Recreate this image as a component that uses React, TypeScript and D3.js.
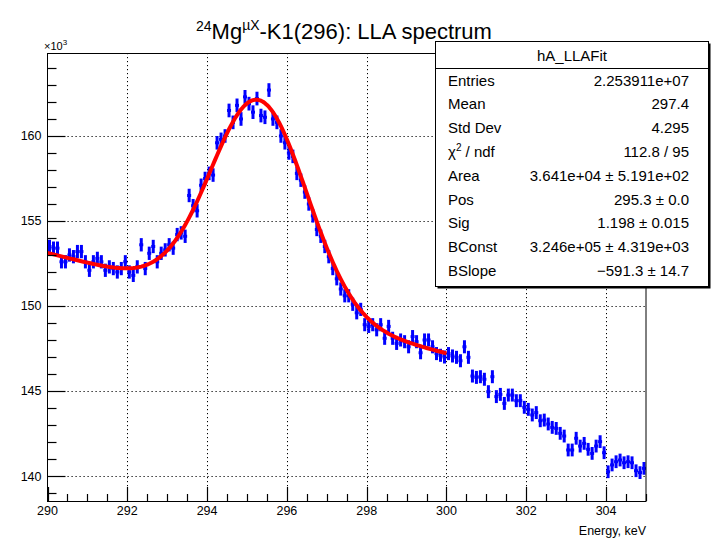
import React, { useRef, useEffect } from 'react';
import * as d3 from 'd3';

// histogram: 150 bins of 0.1 keV from 290 keV, contents in units of 10^3
const binLow = 290;
const binWidth = 0.1;
const counts = [
  153.5, 153.4, 153.4, 152.6, 152.6, 153.0, 152.9, 153.2, 153.2, 152.6,
  152.1, 152.6, 152.8, 152.6, 152.1, 152.3, 152.2, 152.0, 152.2, 152.6,
  152.0, 151.8, 152.3, 153.6, 152.2, 153.1, 153.5, 152.6, 153.1, 153.3,
  153.6, 153.4, 154.2, 154.3, 154.1, 156.5, 155.9, 155.6, 157.1, 157.5,
  157.8, 157.7, 159.6, 159.8, 160.0, 161.5, 160.8, 161.8, 161.0, 162.3,
  161.9, 161.4, 162.2, 161.2, 161.1, 162.7, 161.0, 160.8, 160.0, 159.6,
  159.0, 158.8, 157.8, 157.4, 156.7, 156.0, 155.3, 154.5, 154.1, 153.5,
  152.9, 152.2, 151.6, 151.0, 150.6, 150.6, 150.1, 149.6, 149.8, 148.9,
  148.8, 148.9, 148.6, 148.9, 148.1, 148.8, 148.1, 147.8, 148.0, 147.9,
  147.6, 148.2, 147.9, 147.25, 148.0, 148.0, 147.6, 147.2, 147.1, 147.0,
  147.2, 147.06, 146.98, 146.78, 147.6, 146.98, 145.88, 145.8, 145.84, 145.69,
  144.96, 145.84, 144.67, 144.8, 144.27, 144.76, 144.76, 144.43, 144.43, 144.04,
  143.92, 143.59, 143.73, 143.25, 143.29, 143.06, 142.86, 142.8, 142.51, 142.35,
  141.53, 141.53, 142.22, 141.76, 141.92, 141.57, 141.33, 141.76, 142.02, 141.37,
  140.25, 140.65, 140.84, 140.94, 140.78, 140.84, 140.78, 140.31, 140.2, 140.45,
];

// fit parameters (gaus + pol1), from the stats box
const fitArea = 3.641e4;
const fitPos = 295.3;
const fitSig = 1.198;
const fitBConst = 3.246e5;
const fitBSlope = -591.3;
const fitRange = [290, 300];

const xMajorTicks = [290, 292, 294, 296, 298, 300, 302, 304];
const yMajorTicks = [140, 145, 150, 155, 160];

const statLabels = ['Entries', 'Mean', 'Std Dev', 'χ2 / ndf', 'Area', 'Pos', 'Sig', 'BConst', 'BSlope'];
const statValues = [
  '2.253911e+07', '297.4', '4.295', '112.8 / 95', '3.641e+04 ± 5.191e+02',
  '295.3 ± 0.0', '1.198 ± 0.015', '3.246e+05 ± 4.319e+03', '−591.3 ± 14.7',
];

const font = '"Liberation Sans", Arial, Helvetica, sans-serif';

const App = () => {
  const ref = useRef<SVGSVGElement | null>(null);

  useEffect(() => {
    const svg = d3.select(ref.current);
    svg.selectAll('*').remove();

    const left = 47.5, right = 646, top = 53, bottom = 501;
    const x = d3.scaleLinear().domain([290, 305]).range([left, right]);
    const y = d3.scaleLinear().domain([138.53, 164.88]).range([bottom, top]);

    svg.append('rect').attr('width', 714).attr('height', 541).attr('fill', 'white');

    // grid
    const grid = svg.append('g').attr('stroke', 'black').attr('stroke-width', 1)
      .attr('stroke-dasharray', '1.2,2.8');
    grid.selectAll('line.gx').data(xMajorTicks.slice(1)).join('line')
      .attr('x1', d => Math.round(x(d)) + 0.5).attr('x2', d => Math.round(x(d)) + 0.5)
      .attr('y1', top).attr('y2', bottom);
    grid.selectAll('line.gy').data(yMajorTicks).join('line')
      .attr('class', 'gy')
      .attr('x1', left).attr('x2', right)
      .attr('y1', d => Math.round(y(d)) + 0.5).attr('y2', d => Math.round(y(d)) + 0.5);

    // data with error bars
    const pts = svg.append('g').attr('stroke', '#0000ff').attr('stroke-width', 3);
    counts.forEach((v, i) => {
      const lo = binLow + i * binWidth;
      const hi = lo + binWidth;
      const c = lo + binWidth / 2;
      const err = Math.sqrt(v * 1000) / 1000;
      pts.append('line').attr('x1', x(c)).attr('x2', x(c))
        .attr('y1', y(v - err)).attr('y2', y(v + err));
      pts.append('line').attr('x1', x(lo)).attr('x2', x(hi))
        .attr('y1', y(v)).attr('y2', y(v));
    });

    // fit curve
    const fitFn = (e: number) => (fitBConst + fitBSlope * e +
      fitArea / (fitSig * Math.sqrt(2 * Math.PI)) * Math.exp(-0.5 * ((e - fitPos) / fitSig) ** 2)) / 1000;
    const fitX = d3.range(fitRange[0], fitRange[1] + 1e-9, 0.05);
    svg.append('path')
      .attr('d', d3.line<number>().x(d => x(d)).y(d => y(fitFn(d)))(fitX))
      .attr('fill', 'none').attr('stroke', '#ff0000').attr('stroke-width', 4)
      .attr('stroke-linejoin', 'round');

    // frame
    svg.append('rect').attr('x', left).attr('y', top + 0.5)
      .attr('width', right - left).attr('height', bottom - top)
      .attr('fill', 'none').attr('stroke', 'black').attr('stroke-width', 1);

    // axis ticks
    const ticks = svg.append('g').attr('stroke', 'black').attr('stroke-width', 1.2);
    d3.range(290, 305.01, 0.5).forEach(t => {
      const major = Math.abs(t % 2) < 1e-6;
      const px = Math.round(x(t)) + 0.5;
      ticks.append('line').attr('x1', px).attr('x2', px)
        .attr('y1', bottom).attr('y2', bottom - (major ? 14 : 7));
    });
    d3.range(139, 165, 1).forEach(t => {
      const major = t % 5 === 0;
      const py = Math.round(y(t)) + 0.5;
      ticks.append('line').attr('x1', left).attr('x2', left + (major ? 18 : 9))
        .attr('y1', py).attr('y2', py);
    });

    // tick labels
    svg.append('g').selectAll('text').data(xMajorTicks).join('text')
      .attr('x', d => x(d)).attr('y', bottom + 14)
      .attr('text-anchor', 'middle').attr('font-size', 12.5).attr('font-family', font)
      .text(d => d);
    svg.append('g').selectAll('text').data(yMajorTicks).join('text')
      .attr('x', left - 6).attr('y', d => y(d) + 4.5)
      .attr('text-anchor', 'end').attr('font-size', 12.5).attr('font-family', font)
      .text(d => d);

    const exp = svg.append('text').attr('x', 44).attr('y', 50)
      .attr('font-size', 11).attr('font-family', font);
    exp.append('tspan').text('×10');
    exp.append('tspan').attr('dy', -5).attr('font-size', 8).text('3');

    svg.append('text').attr('x', right).attr('y', 535)
      .attr('text-anchor', 'end').attr('font-size', 12.5).attr('font-family', font)
      .text('Energy, keV');

    // title
    const title = svg.append('text').attr('x', 196).attr('y', 39)
      .attr('font-size', 22).attr('font-family', font);
    title.append('tspan').attr('font-size', 14).attr('dy', -8).text('24');
    title.append('tspan').attr('dy', 8).text('Mg');
    title.append('tspan').attr('font-size', 14).attr('dy', -9).text('µX');
    title.append('tspan').attr('dy', 9).text('-K1(296): LLA spectrum');

    // stats box
    const bx = 435.5, by = 41.5, bw = 273, bh = 245;
    const box = svg.append('g').attr('font-family', font).attr('font-size', 15);
    box.append('rect').attr('x', bx + 2).attr('y', by + 2).attr('width', bw).attr('height', bh)
      .attr('fill', 'black');
    box.append('rect').attr('x', bx).attr('y', by).attr('width', bw).attr('height', bh)
      .attr('fill', 'white').attr('stroke', 'black').attr('stroke-width', 1);
    box.append('line').attr('x1', bx).attr('x2', bx + bw).attr('y1', 68.5).attr('y2', 68.5)
      .attr('stroke', 'black').attr('stroke-width', 1);
    box.append('text').attr('x', bx + bw / 2).attr('y', 60.5).attr('text-anchor', 'middle')
      .text('hA_LLAFit');
    statLabels.forEach((label, i) => {
      const ty = 85.5 + 23.8 * i;
      const t = box.append('text').attr('x', 448).attr('y', ty);
      if (label.startsWith('χ2')) {
        t.append('tspan').text('χ');
        t.append('tspan').attr('dy', -6).attr('font-size', 10).text('2');
        t.append('tspan').attr('dy', 6).text(' / ndf');
      } else {
        t.text(label);
      }
      box.append('text').attr('x', 689).attr('y', ty).attr('text-anchor', 'end')
        .text(statValues[i]);
    });
  }, []);

  return (
    <svg ref={ref} width={714} height={541}
      style={{ position: 'absolute', left: 0, top: 0, display: 'block' }} />
  );
};

export default App;
